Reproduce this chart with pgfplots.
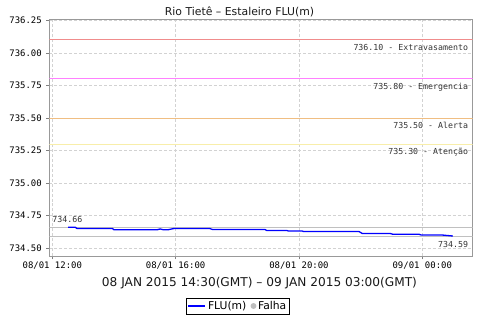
\documentclass[border=0pt]{standalone}
\usepackage{pgfplots}
\pgfplotsset{compat=1.18}
\usepackage{fontspec}
\setmainfont{DejaVu Sans}
\newfontfamily\monof{DejaVu Sans Mono}
\definecolor{cExtra}{RGB}{240,140,140}
\definecolor{cEmer}{RGB}{255,128,255}
\definecolor{cAlert}{RGB}{240,190,130}
\definecolor{cAten}{RGB}{248,238,170}
\definecolor{cMinMax}{RGB}{192,192,192}
\definecolor{cGrid}{RGB}{210,210,210}
\definecolor{cFalha}{RGB}{190,190,190}
\begin{document}
\begin{tikzpicture}
\useasboundingbox (0,0) rectangle (480bp,320bp);
\node[font=\fontsize{10.9}{12}\selectfont, text=black!90] at (239.5bp,308bp) {Rio Tietê – Estaleiro FLU(m)};
\node[font=\fontsize{12.2}{14}\selectfont, text=black!90] at (259.5bp,37bp) {08 JAN 2015 14:30(GMT) – 09 JAN 2015 03:00(GMT)};
\begin{axis}[
  at={(49.3bp,63.7bp)}, anchor=south west,
  width=423.4bp, height=236.6bp, scale only axis,
  xmin=11.9027, xmax=25.636,
  ymin=734.436, ymax=736.255,
  xtick={12,16,20,24},
  xticklabels={08/01 12:00,08/01 16:00,08/01 20:00,09/01 00:00},
  ytick={734.5,734.75,735,735.25,735.5,735.75,736,736.25},
  /pgf/number format/fixed,
  /pgf/number format/fixed zerofill,
  /pgf/number format/precision=2,
  /pgf/number format/assume math mode=true,
  ticklabel style={font=\monof\fontsize{9}{10}\selectfont, text=black},
  xticklabel style={yshift=1bp},
  yticklabel style={xshift=-1bp},
  scaled y ticks=false,
  tick align=outside, major tick length=3bp,
  xtick pos=left, ytick pos=left,
  tick style={gray, line width=0.6bp},
  axis line style={draw=gray!80, line width=0.6bp},
  grid=major,
  major grid style={densely dashed, draw=cGrid, line width=0.4bp},
  legend columns=2,
  legend style={at={(0.4457,-0.210)}, anchor=center, draw=black, line width=0.6bp,
    font=\fontsize{10.8}{12}\selectfont, inner sep=1.2bp,
    /tikz/every even column/.append style={column sep=2.5bp}},
  legend cell align=left,
]
\addplot[forget plot, cExtra, line width=0.8bp] coordinates {(11.9027,736.10) (25.636,736.10)};
\addplot[forget plot, cEmer, line width=0.8bp] coordinates {(11.9027,735.80) (25.636,735.80)};
\addplot[forget plot, cAlert, line width=0.8bp] coordinates {(11.9027,735.50) (25.636,735.50)};
\addplot[forget plot, cAten, line width=0.8bp] coordinates {(11.9027,735.30) (25.636,735.30)};
\addplot[forget plot, cMinMax, line width=0.8bp] coordinates {(11.9027,734.66) (25.636,734.66)};
\addplot[forget plot, cMinMax, line width=0.8bp] coordinates {(11.9027,734.59) (25.636,734.59)};
\addplot[blue, line width=1.3bp] coordinates {
(12.51,734.660) (12.74,734.660) (12.80,734.650) (13.95,734.650) (14.00,734.640)
(15.40,734.640) (15.50,734.646) (15.60,734.640) (15.75,734.640) (15.95,734.650)
(17.10,734.650) (17.20,734.642) (18.90,734.642) (18.95,734.635) (19.60,734.635)
(19.65,734.631) (20.10,734.631) (20.15,734.626) (21.95,734.626) (22.05,734.612)
(22.95,734.612) (23.05,734.605) (23.90,734.605) (23.97,734.599) (24.67,734.599)
(24.99,734.592)};
\addlegendentry{FLU(m)}
\addlegendimage{only marks, mark=*, mark size=2.6bp, color=cFalha}
\addlegendentry{Falha}
\node[anchor=north east, inner sep=0pt, xshift=-4.5bp, yshift=-4bp, font=\monof\fontsize{8.3}{10}\selectfont, text=black!80] at (axis cs:25.636,736.10) {736.10 - Extravasamento};
\node[anchor=north east, inner sep=0pt, xshift=-4.5bp, yshift=-4bp, font=\monof\fontsize{8.3}{10}\selectfont, text=black!80] at (axis cs:25.636,735.80) {735.80 - Emergencia};
\node[anchor=north east, inner sep=0pt, xshift=-4.5bp, yshift=-4bp, font=\monof\fontsize{8.3}{10}\selectfont, text=black!80] at (axis cs:25.636,735.50) {735.50 - Alerta};
\node[anchor=north east, inner sep=0pt, xshift=-4.5bp, yshift=-4bp, font=\monof\fontsize{8.3}{10}\selectfont, text=black!80] at (axis cs:25.636,735.30) {735.30 - Atenção};
\node[anchor=south west, inner sep=0pt, xshift=3bp, yshift=4bp, font=\monof\fontsize{8.3}{10}\selectfont, text=black!80] at (axis cs:11.9027,734.66) {734.66};
\node[anchor=north east, inner sep=0pt, xshift=-4.5bp, yshift=-4.5bp, font=\monof\fontsize{8.3}{10}\selectfont, text=black!80] at (axis cs:25.636,734.59) {734.59};
\end{axis}
\end{tikzpicture}
\end{document}
